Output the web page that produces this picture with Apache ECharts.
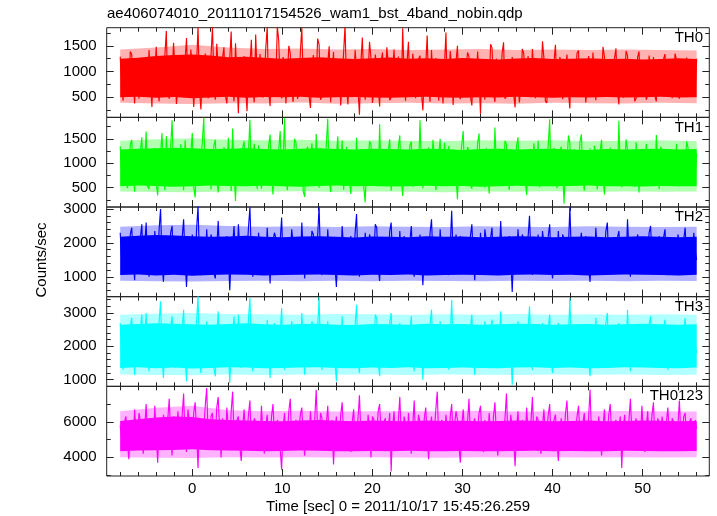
<!DOCTYPE html>
<html>
<head>
<meta charset="utf-8">
<script src="https://cdn.jsdelivr.net/npm/echarts@6/dist/echarts.min.js"></script>
<style>html,body{margin:0;padding:0;background:#fff;}#c{width:717px;height:516px;}</style>
</head>
<body>
<div id="c"></div>
<script>
// ---- data: sampled light curves (counts/sec), t from -8 s in 0.16 s steps ----
const tStart = -8, tStep = 0.16;
const th0 = [
1290,720,430,1180,1010,560,650,1390,1330,810,380,1060,930,470,1160,690,520,1250,870,600,
1420,840,310,1110,990,1480,720,420,1240,950,560,1320,1790,610,470,1050,890,1560,1080,370,
350,960,1290,530,690,1210,1650,740,540,1430,1020,310,780,1140,1880,650,260,1010,940,1350,
1190,480,610,1300,1860,880,450,1540,1070,620,820,1270,1470,530,380,990,1230,1780,700,420,
1550,870,190,1240,960,580,1300,700,230,1150,1110,1620,650,400,1720,930,570,1340,1000,490,
840,1450,1870,610,330,1090,1180,520,760,1880,1600,720,480,1280,1060,380,900,1500,1350,640,
410,1130,1250,470,590,1380,1850,760,720,1190,1040,550,290,1010,1320,680,880,1640,1530,450,
530,1270,990,610,1170,1490,400,900,1380,560,670,1220,1110,340,820,1360,1900,730,360,1080,
1210,500,740,1420,1020,650,160,1150,1660,800,450,1040,930,1580,1260,390,610,1330,1090,710,
320,1200,1370,590,780,1470,1150,440,500,1000,1430,760,690,1290,970,520,1840,880,430,1170,
1580,690,620,1350,1030,480,860,1240,1310,600,240,950,1120,1700,710,410,1420,830,550,1260,
980,430,1200,770,380,1110,1760,560,650,1400,1070,350,900,1190,1500,640,460,1020,1160,740,
770,1370,1290,510,340,1130,1050,680,1390,860,180,1210,940,450,1230,1030,670,1530,1460,580,
410,1250,1100,620,830,1360,1570,470,520,1060,1010,730,1280,560,300,1160,1180,400,720,1440,
1350,820,600,1300,960,500,1440,1010,480,1220,1150,640,790,1590,1260,430,390,970,1060,660,
880,1180,1520,710,540,1280,1190,460,700,1050,1330,590,280,1230,1090,750,940,1360,1410,520,
510,1140,1240,400,660,1300,1080,630,1370,870,440,1190,1010,560,820,1480,1290,690,570,1100,
1170,530,750,1260,1450,640,360,1020,1130,490,890,1400,1310,700,620,1150,1040,420,480,1280,
1390,610,710,1090,1200,450,540,1310,1000,780,1280,520,420,1170,1120,660,800,1240,1340,570,
590,1210,1060,480,910,1350,1230,620,470,1080,1180,530,740,1270,1300,680,560,1130,1020,600,
1250];
const th1 = [
1350,780,560,1240,1120,490,700,1380,1480,860,420,1170,980,640,1260,1530,610,1020,1650,530,
470,1290,1040,720,1310,580,340,1100,1190,1620,790,450,1560,930,520,1350,1880,760,680,1230,
1100,590,1390,820,450,1470,1020,660,860,1210,1620,510,300,1060,1250,700,740,1440,1930,620,
580,1280,1170,470,930,1360,1480,740,400,1150,1090,560,1330,890,650,1520,1010,430,1710,800,
230,1080,1200,640,820,1310,1450,560,530,1240,1890,710,700,1400,1060,480,1370,950,480,1190,
1150,670,760,1350,1590,830,360,1130,990,540,1280,1660,620,1010,1920,740,450,1270,1080,600,
870,1500,1420,690,560,1230,1130,420,310,1160,1340,790,780,1410,1040,570,1600,880,500,1310,
1230,550,680,1380,1910,720,410,1200,1000,610,1160,1550,590,940,1470,460,850,1330,1290,650,
370,1140,1060,580,1520,870,640,1290,1180,500,200,1070,960,1450,1380,610,720,1240,1110,530,
1800,760,530,1190,1020,670,1260,1490,440,980,1150,600,880,1330,1570,710,330,1210,1090,560,
760,1370,1440,520,610,1260,1210,740,1880,950,490,1180,990,630,1320,820,680,1480,1120,450,
420,1150,1500,690,830,1420,1050,580,1360,910,570,1280,1170,730,260,1090,1030,1390,1660,620,
710,1330,1240,560,480,1060,1100,770,1420,1610,640,1000,950,500,1310,860,380,1250,1190,680,
1730,930,550,1300,1070,620,840,1460,1390,700,460,1170,1220,540,1000,1350,1530,780,620,1120,
1140,660,350,1020,1290,590,790,1410,1060,720,1460,510,520,1230,1180,640,910,1380,1900,570,
600,1310,1250,490,730,1200,1340,810,170,1080,1020,1570,1410,600,660,1290,1160,540,880,1440,
1590,750,440,1190,1080,650,1300,930,590,1360,1200,470,800,1250,1480,690,360,1110,1040,600,
1320,820,690,1280,1130,580,1870,760,510,1160,970,1490,1270,640,620,1210,1110,520,1430,880,
400,1260,1190,630,850,1400,1360,710,570,1130,1050,560,1580,920,480,1340,1230,670,740,1290,
1290,580,610,1230,1090,700,1400,840,530,1180,1170,620,860,1450,1320,560,650,1210,1040,730,
1200];
const th2 = [
2300,1500,1100,2050,1950,1200,1300,2250,2450,1600,900,1850,1800,1250,2150,2550,1200,1900,2600,1350,
1000,2200,1750,1150,2350,1650,1400,2400,3000,1450,850,1950,1900,1100,1550,2300,2500,1300,1150,2050,
2050,1400,1350,2150,2700,1550,700,1750,1850,1200,2250,1650,1250,2400,3100,1450,1050,2000,1700,1150,
2400,1600,1450,2250,2000,1100,950,1850,2650,1500,1300,2100,1800,1250,2200,1700,600,1550,1950,2500,
1500,1150,2550,1750,1150,2000,2100,1350,1700,2450,3050,1600,1000,1900,1850,1200,2300,1550,1250,2150,
1900,1300,2450,1650,800,1800,1750,2300,2150,1250,1400,2050,2750,1500,1100,1950,2000,1350,1600,2400,
2350,1550,1200,1950,1850,1150,2600,1700,950,2100,2050,1400,1500,2350,2250,1600,1300,2200,3080,1450,
1050,1900,1800,1250,2400,1650,1350,2150,2000,1300,700,1750,1950,1400,2500,1850,1200,2050,1700,1100,
2200,1550,1450,2300,2850,1350,1000,1800,1900,1200,2300,1700,1250,2250,2050,1450,1600,2550,2450,1300,
880,1950,1850,1250,2150,1650,1300,2350,2600,1500,1100,2000,1750,1200,2350,1600,1400,2200,2000,1350,
1550,2050,2500,1400,1000,1850,1950,1300,2250,1700,750,1650,2100,1450,1650,2300,2700,1550,1200,1900,
1800,1250,2400,1700,1350,2150,2050,1450,1050,1900,2950,1600,1500,2250,1900,1200,2200,1750,1150,2050,
2000,1350,1450,2200,2550,1550,900,1800,1850,1250,2300,1700,1300,2400,2100,1450,1600,2150,2450,1300,
1100,2050,1950,1500,2650,1650,1250,2100,1750,1150,2200,1600,550,1700,1900,1350,2400,1800,1350,2250,
2050,1400,1500,2150,2800,1600,1050,1850,1800,1300,2250,1700,1200,2350,2000,1450,1650,2200,2550,1350,
950,1750,1850,1300,2350,1600,1400,2250,2100,1450,1150,1900,3050,1650,1550,2150,1950,1350,1250,2000,
2300,1450,1600,2200,2050,1300,850,1700,1900,1250,2450,1800,1350,2100,2150,1550,1700,2350,2600,1400,
1100,1850,2000,1300,1450,2150,2350,1650,1200,2050,1850,1400,2700,1750,1000,1900,1950,1250,1550,2250,
2250,1600,1300,2100,2050,1450,1750,2300,2500,1550,1150,1950,1900,1350,2200,1700,1400,2150,2400,1500,
1050,1900,1800,1300,2150,1650,1350,2250,2000,1450,1600,2100,2450,1500,1250,2000,1950,1400,2300,1750,
1500];
const th3 = [
2700,1800,1300,2450,2300,1450,1550,2600,2850,1900,1150,2200,2150,1550,2500,2950,1400,2250,3000,1600,
1250,2550,2050,1400,2650,1950,1600,2750,3350,1700,1050,2300,2250,1350,1800,2600,2900,1550,1350,2400,
2400,1700,1650,2500,3100,1800,950,2100,2200,1450,2600,1950,1450,2750,3500,1700,1200,2350,2000,1400,
2750,1900,1700,2650,2350,1350,1100,2200,3050,1750,1550,2450,2100,1500,2550,2000,900,1850,2300,2900,
1800,1400,2950,2050,1350,2350,2450,1600,2000,2800,3450,1850,1250,2250,2200,1450,2650,1800,1500,2500,
2250,1550,2800,1950,1050,2150,2050,2700,2500,1500,1650,2400,3150,1750,1300,2300,2350,1600,1900,2750,
2700,1800,1450,2300,2150,1400,3000,2000,1150,2450,2400,1650,1750,2750,2600,1850,1550,2550,3480,1700,
1300,2250,2100,1500,2750,1950,1600,2500,2350,1550,950,2050,2300,1650,2900,2150,1450,2400,2000,1350,
2550,1850,1700,2650,3250,1600,1200,2100,2250,1450,2650,2000,1500,2600,2400,1700,1900,2950,2850,1550,
1100,2300,2200,1500,2500,1950,1550,2700,3000,1800,1350,2350,2050,1450,2700,1900,1650,2550,2350,1600,
1850,2400,2900,1650,1250,2200,2300,1550,2600,2000,1000,1950,2450,1700,1950,2650,3100,1850,1450,2250,
2100,1500,2750,2000,1600,2500,2400,1700,1300,2250,3400,1900,1800,2600,2250,1450,2550,2050,1400,2400,
2350,1600,1700,2550,2950,1850,1150,2150,2200,1500,2650,2000,1550,2750,2450,1700,1900,2500,2800,1550,
1350,2400,2300,1750,3050,1950,1500,2450,2050,1400,2550,1900,850,2000,2250,1600,2750,2100,1600,2600,
2400,1650,1800,2500,3200,1900,1300,2150,2100,1550,2600,2000,1450,2700,2350,1700,1950,2550,2950,1600,
1200,2050,2200,1550,2700,1900,1650,2600,2450,1700,1400,2250,3450,1950,1850,2500,2300,1600,1500,2350,
2650,1700,1900,2550,2400,1550,1100,2000,2250,1500,2850,2100,1600,2450,2500,1800,2000,2700,3000,1650,
1350,2150,2350,1550,1750,2500,2700,1950,1450,2400,2200,1650,3100,2050,1250,2250,2300,1500,1850,2600,
2600,1850,1550,2450,2400,1700,2050,2650,2900,1800,1400,2300,2250,1600,2550,2000,1650,2500,2800,1750,
1300,2250,2150,1550,2500,1950,1600,2600,2350,1700,1900,2450,2850,1750,1500,2300,2300,1650,2650,2050,
1800];
const th0123 = [
5800,5000,4400,6000,6300,4800,3900,5600,5500,4600,6700,5300,4700,6500,6100,5100,4200,5700,7000,4900,
4900,6200,5700,4500,6900,5400,3700,5900,5300,4700,6400,5800,4500,6100,7300,5200,4100,6300,5900,4800,
6600,5500,4800,6400,7600,5000,4300,6700,6000,4900,5100,6500,7100,5400,3400,6100,6200,4700,5600,6900,
7900,5200,4600,6300,6500,4900,5200,6800,7400,5500,4000,6200,5800,4700,6800,5600,4400,6600,7700,5100,
5000,6100,6300,4600,3800,5700,6700,5000,5400,6400,7200,4800,4500,6200,6000,5100,5600,4700,6900,5300,
4200,5800,6400,4900,5100,6300,7000,5200,4700,6100,5900,4500,3300,5600,6500,5000,5300,6600,7300,4800,
4600,5900,6100,4700,5500,6400,6800,5100,4100,6000,5700,4600,6600,5300,4800,6200,7800,5400,5000,6500,
6200,4900,4400,5800,6900,5000,5200,6100,3600,5500,6300,4700,4900,6400,7100,5200,5400,4600,6000,5700,
4300,6000,6700,4800,5100,6200,7500,5300,4600,5900,5800,4400,6400,5600,4000,6300,6100,5000,5300,6600,
7000,5400,4500,6000,6200,4900,5600,6500,3200,5700,6600,4800,5000,6100,7400,5300,4700,6300,5900,4600,
6500,5100,4200,5800,7200,4900,5300,6400,6000,4500,4800,6200,6800,5200,3900,5600,6300,4700,5500,6700,
7700,5000,4600,6100,5900,4800,6400,5500,4400,6300,7000,5100,5200,6600,6100,4700,3700,5800,6700,5300,
5100,6000,7300,5200,4700,5900,6200,4600,5600,6500,6900,5000,4300,6100,5800,4900,6500,5400,4900,6300,
7100,5300,4100,5700,6000,4800,5400,6200,7600,5100,4600,6400,6300,5000,3500,5600,6600,4700,5200,6100,
5900,4800,6800,5400,4500,6000,7400,5200,5000,6300,6100,4700,4200,5700,6700,5100,5500,6400,7000,4900,
4800,6100,6400,5000,3800,5600,6200,4700,5300,6500,7200,5100,4600,5900,6000,4800,5700,6300,6900,5200,
4400,5900,6500,4800,5100,6200,7800,5300,4900,6000,5800,4600,6300,5500,4100,5700,6700,5000,5400,6400,
7000,5200,4700,5900,6100,4800,5600,6300,3400,5500,6400,4900,5000,6100,7300,5400,4500,5800,6200,4700,
5800,5000,6900,5300,4300,5700,6600,4900,5200,6400,7100,5000,4800,6200,5900,4700,6300,5500,4600,6000,
6800,5100,5300,6200,6000,4700,4400,5800,7200,5300,5100,6300,6500,4900,4900,6000,6200,5000,5700,6100,
5600];

// ---- data: solidly filled core of each curve (low / high edge), t from -8 s in 2 s steps ----
const coreStart = -8, coreStep = 2;
const th0Lo = [500,510,490,505,480,495,510,490,505,500,510,490,500,505,495,490,500,510,495,490,500,495,510,500,490,500,495,505,495,500,510,495,500];
const th0Hi = [1250,1270,1300,1320,1330,1310,1280,1290,1270,1250,1265,1280,1260,1245,1260,1275,1250,1260,1245,1265,1250,1235,1255,1265,1245,1250,1260,1245,1250,1235,1245,1260,1245];
const th1Lo = [530,545,535,520,530,545,535,530,540,530,520,535,545,530,535,525,530,540,530,535,520,530,540,530,530,535,545,530,530,525,535,530,530];
const th1Hi = [1280,1295,1310,1320,1305,1290,1295,1305,1290,1280,1295,1310,1290,1280,1295,1290,1280,1295,1290,1270,1290,1295,1280,1290,1295,1280,1270,1290,1280,1290,1295,1280,1290];
const th2Lo = [1050,1070,1040,1060,1030,1050,1070,1060,1040,1050,1060,1070,1050,1040,1060,1050,1070,1040,1050,1060,1050,1040,1060,1070,1050,1060,1040,1050,1070,1060,1050,1040,1060];
const th2Hi = [2180,2210,2230,2220,2200,2180,2190,2210,2180,2170,2190,2200,2180,2160,2190,2180,2170,2200,2180,2190,2170,2180,2200,2190,2170,2180,2190,2170,2180,2200,2180,2170,2180];
const th3Lo = [1350,1370,1340,1360,1330,1350,1370,1360,1340,1350,1360,1370,1350,1340,1360,1350,1370,1340,1350,1360,1350,1340,1360,1370,1350,1360,1340,1350,1370,1360,1350,1340,1360];
const th3Hi = [2650,2670,2690,2680,2660,2650,2670,2690,2660,2650,2670,2680,2650,2640,2670,2660,2650,2680,2660,2670,2650,2660,2680,2670,2650,2660,2670,2650,2660,2680,2660,2650,2660];
const th0123Lo = [4350,4380,4400,4420,4450,4400,4380,4370,4350,4360,4380,4370,4350,4340,4360,4350,4370,4340,4350,4360,4350,4340,4360,4370,4350,4360,4340,4350,4370,4360,4350,4340,4360];
const th0123Hi = [6050,6150,6250,6300,6280,6150,6100,6080,6050,6040,6070,6100,6060,6030,6070,6050,6040,6080,6050,6060,6040,6050,6080,6060,6040,6050,6070,6040,6050,6080,6060,6040,6050];

// ---- data: half-covered fringe of each curve (low / high edge), t from -8 s in 4 s steps ----
const fringeStart = -8, fringeStep = 4;
const th0FLo = [390,380,370,385,380,395,375,385,390,380,385,375,390,385,380,390,385];
const th0FHi = [1430,1470,1520,1470,1440,1450,1430,1440,1420,1430,1440,1420,1430,1420,1430,1420,1410];
const th1FLo = [420,410,405,420,415,425,410,420,415,405,420,415,425,410,420,415,420];
const th1FHi = [1460,1490,1510,1480,1470,1480,1460,1470,1460,1450,1470,1460,1470,1450,1460,1470,1450];
const th2FLo = [880,870,860,875,880,870,885,870,880,875,870,880,875,885,870,880,875];
const th2FHi = [2480,2520,2540,2500,2480,2490,2470,2490,2480,2470,2490,2480,2470,2490,2480,2470,2480];
const th3FLo = [1150,1140,1130,1150,1140,1155,1145,1150,1140,1150,1145,1140,1150,1145,1150,1140,1145];
const th3FHi = [2950,2980,3000,2970,2960,2950,2970,2960,2950,2960,2950,2970,2950,2960,2950,2960,2950];
const th0123FLo = [4000,3980,3960,4000,3990,4010,3990,4000,3990,3980,4000,3990,4010,3990,4000,3990,4000];
const th0123FHi = [6600,6800,6900,6650,6600,6620,6580,6600,6590,6600,6620,6580,6600,6590,6610,6590,6580];

const seriesValues = [th0, th1, th2, th3, th0123];
const coreLo = [th0Lo, th1Lo, th2Lo, th3Lo, th0123Lo];
const coreHi = [th0Hi, th1Hi, th2Hi, th3Hi, th0123Hi];
const fringeLo = [th0FLo, th1FLo, th2FLo, th3FLo, th0123FLo];
const fringeHi = [th0FHi, th1FHi, th2FHi, th3FHi, th0123FHi];
const panelNames = ['TH0', 'TH1', 'TH2', 'TH3', 'TH0123'];
const colors = ['#ff0000', '#00ff00', '#0000ff', '#00ffff', '#ff00ff'];
const yMin = [108, 104, 412, 798, 2950];
const yMax = [1853, 1940, 3060, 3490, 8000];
const yMajor = [[500, 1000, 1500], [500, 1000, 1500], [1000, 2000, 3000], [1000, 2000, 3000], [4000, 6000]];
const yMinor = [
  [250, 500, 750, 1000, 1250, 1500, 1750],
  [250, 500, 750, 1000, 1250, 1500, 1750],
  [600, 800, 1000, 1200, 1400, 1600, 1800, 2000, 2200, 2400, 2600, 2800, 3000],
  [1000, 1200, 1400, 1600, 1800, 2000, 2200, 2400, 2600, 2800, 3000, 3200, 3400],
  [3000, 4000, 5000, 6000, 7000]
];
const xMajor = [0, 10, 20, 30, 40, 50];
const xMinor = [-8, -6, -4, -2, 0, 2, 4, 6, 8, 10, 12, 14, 16, 18, 20, 22, 24, 26, 28, 30,
  32, 34, 36, 38, 40, 42, 44, 46, 48, 50, 52, 54, 56];
const titleText = 'ae406074010_20111017154526_wam1_bst_4band_nobin.qdp';
const xTitle = 'Time [sec] 0 = 2011/10/17 15:45:26.259';
const yTitle = 'Counts/sec';

// ---- layout ----
const FONT = '"Liberation Sans", Arial, Helvetica, sans-serif';
const L = 106.7, R = 709.3, TOP = 27.7, PH = 89.66;
const XMIN = -9.5, XMAX = 57.4;
const axCol = '#222';

function bandSeries(i, lo, hi, start, step, opacity, z) {
  const col = colors[i];
  return {
    type: 'custom', xAxisIndex: 4 * i, yAxisIndex: 4 * i, silent: true, z: z,
    data: [[start, lo[0]]],
    renderItem: function (params, api) {
      const pts = [];
      for (let k = 0; k < hi.length; k++) pts.push(api.coord([start + k * step, hi[k]]));
      for (let k = lo.length - 1; k >= 0; k--) pts.push(api.coord([start + k * step, lo[k]]));
      return {type: 'polygon', shape: {points: pts}, style: {fill: col, opacity: opacity}};
    }
  };
}

const grids = [], xAxes = [], yAxes = [], series = [], graphics = [];
for (let i = 0; i < 5; i++) {
  const top = TOP + i * PH;
  grids.push({left: L, width: R - L, top: top, height: PH, show: true,
    borderColor: axCol, borderWidth: 1, backgroundColor: 'transparent', containLabel: false});
  const mkX = (pos, vals, len, labels) => ({
    type: 'value', gridIndex: i, position: pos, min: XMIN, max: XMAX,
    axisLine: {show: false, onZero: false},
    splitLine: {show: false},
    axisTick: {show: true, inside: true, length: len, customValues: vals, lineStyle: {color: axCol, width: 1}},
    axisLabel: labels ? {show: true, customValues: xMajor, color: '#000', fontSize: 15, fontFamily: FONT, margin: 5,
                         formatter: v => String(v)}
                      : {show: false}
  });
  xAxes.push(mkX('bottom', xMajor, 7, i === 4));
  xAxes.push(mkX('bottom', xMinor, 4, false));
  xAxes.push(mkX('top', xMajor, 7, false));
  xAxes.push(mkX('top', xMinor, 4, false));
  const mkY = (pos, vals, len, labels) => ({
    type: 'value', gridIndex: i, position: pos, min: yMin[i], max: yMax[i],
    axisLine: {show: false, onZero: false},
    splitLine: {show: false},
    axisTick: {show: true, inside: true, length: len, customValues: vals, lineStyle: {color: axCol, width: 1}},
    axisLabel: labels ? {show: true, customValues: yMajor[i], color: '#000', fontSize: 15, fontFamily: FONT, margin: 10,
                         formatter: v => String(v)}
                      : {show: false}
  });
  yAxes.push(mkY('left', yMajor[i], 7, true));
  yAxes.push(mkY('left', yMinor[i], 4, false));
  yAxes.push(mkY('right', yMajor[i], 7, false));
  yAxes.push(mkY('right', yMinor[i], 4, false));

  series.push(bandSeries(i, fringeLo[i], fringeHi[i], fringeStart, fringeStep, 0.3, 1));
  series.push(bandSeries(i, coreLo[i], coreHi[i], coreStart, coreStep, 1, 2));
  series.push({
    type: 'line', name: panelNames[i], xAxisIndex: 4 * i, yAxisIndex: 4 * i,
    data: seriesValues[i].map((v, k) => [tStart + k * tStep, v]),
    showSymbol: false, symbol: 'none', clip: true, sampling: null,
    lineStyle: {color: colors[i], width: 1.15},
    emphasis: {disabled: true}, z: 3
  });
  graphics.push({type: 'text', x: 703, y: top + 10, z: 100,
    style: {text: panelNames[i], fill: '#000', font: '15px ' + FONT, align: 'right', verticalAlign: 'middle'}});
}
graphics.push({type: 'text', x: 107, y: 14,
  style: {text: titleText, fill: '#000', font: '15px ' + FONT, align: 'left', verticalAlign: 'middle'}});
graphics.push({type: 'text', x: 398, y: 507,
  style: {text: xTitle, fill: '#000', font: '15px ' + FONT, align: 'center', verticalAlign: 'middle'}});
graphics.push({type: 'text', x: 42, y: 260, rotation: Math.PI / 2,
  style: {text: yTitle, fill: '#000', font: '15px ' + FONT, align: 'center', verticalAlign: 'middle'}});

const chart = echarts.init(document.getElementById('c'), null, {renderer: 'canvas'});
chart.setOption({
  animation: false,
  backgroundColor: '#fff',
  grid: grids, xAxis: xAxes, yAxis: yAxes, series: series, graphic: graphics
});
</script>
</body>
</html>
